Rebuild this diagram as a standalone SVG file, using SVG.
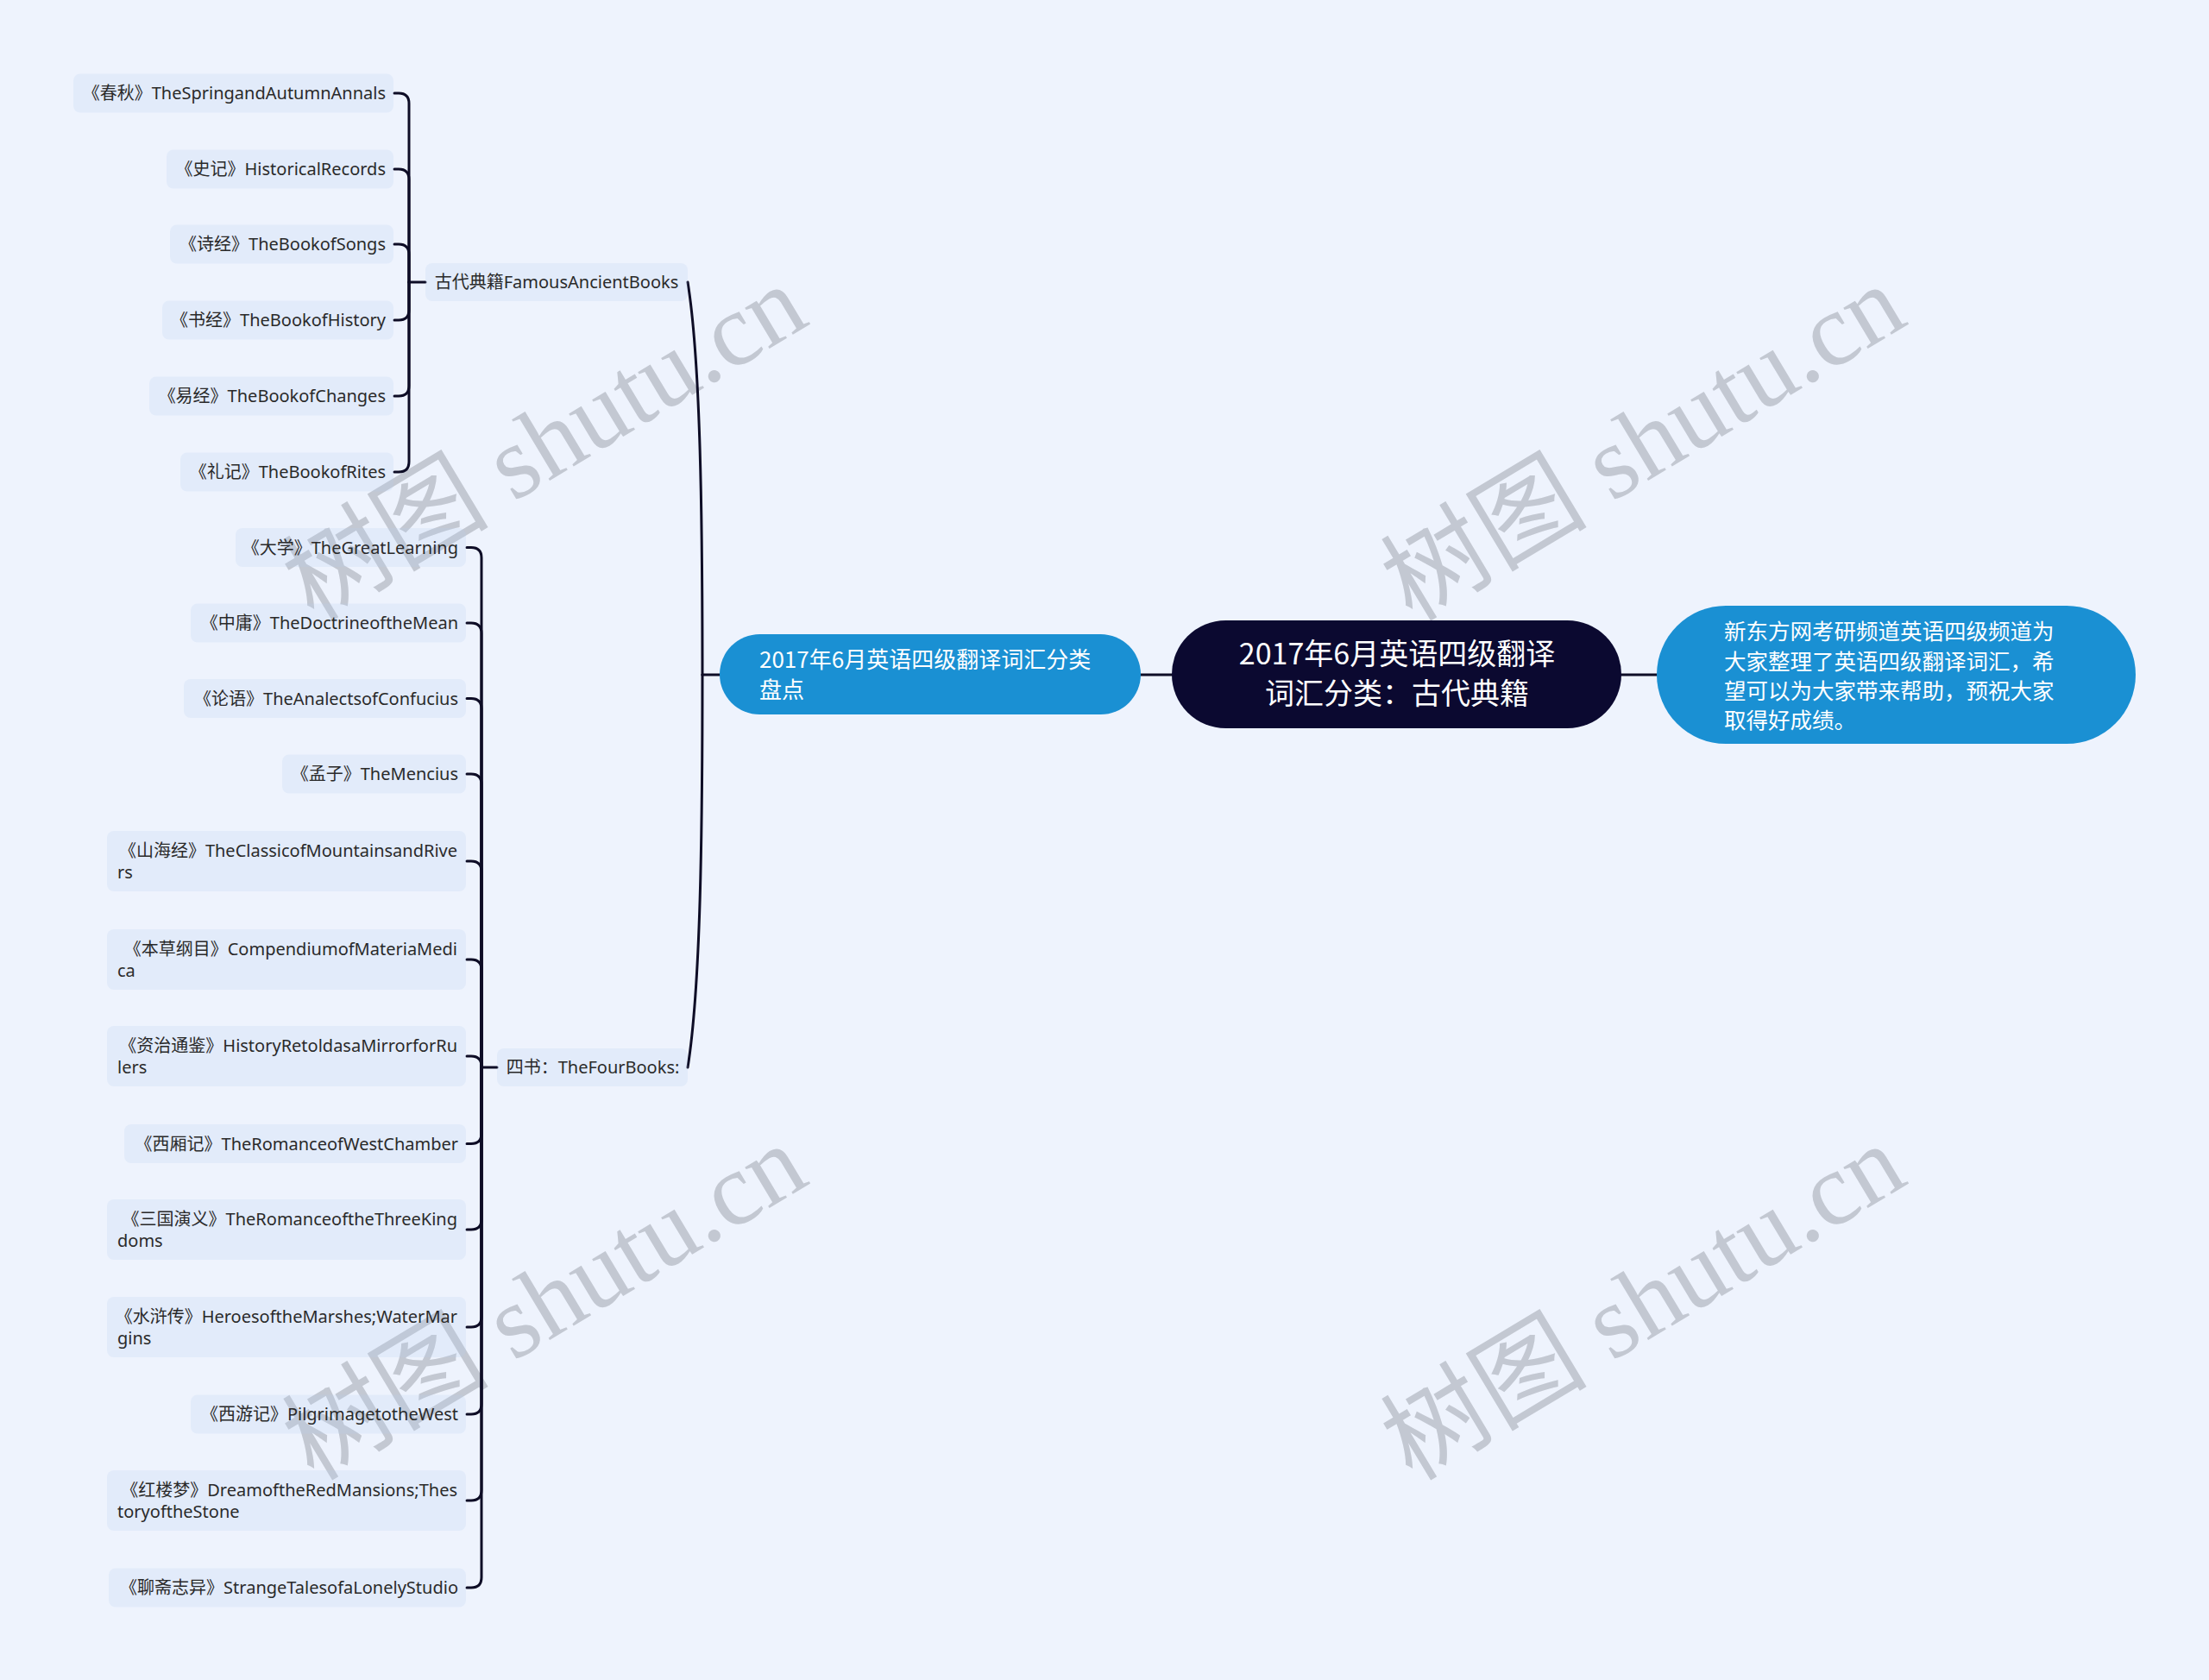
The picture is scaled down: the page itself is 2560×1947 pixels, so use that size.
<svg xmlns="http://www.w3.org/2000/svg" width="2560" height="1947" viewBox="0 0 2560 1947">
<style>
.bg{fill:#eef3fd}
.wm{fill:#c3c8d2;font-family:"Liberation Serif","Noto Sans CJK SC",serif;font-size:120px}
.leaf{fill:#b2cbef;fill-opacity:0.2}
.t{font-family:"Noto Sans","Noto Sans CJK SC",sans-serif;font-size:20px;fill:#2a2a2a}
.e{text-anchor:end}
.w{fill:#ffffff;font-family:"Noto Sans CJK SC","Noto Sans",sans-serif}
.c{fill:none;stroke:#0e0d26;stroke-width:3;stroke-linecap:round}
</style>
<rect class="bg" x="0" y="0" width="2560" height="1947"/>
<g id="watermarks">
<text class="wm" transform="translate(652,548) rotate(-31)" text-anchor="middle">树图 shutu.cn</text>
<text class="wm" transform="translate(1925,548) rotate(-31)" text-anchor="middle">树图 shutu.cn</text>
<text class="wm" transform="translate(652,1544) rotate(-31)" text-anchor="middle">树图 shutu.cn</text>
<text class="wm" transform="translate(1925,1544) rotate(-31)" text-anchor="middle">树图 shutu.cn</text>
</g>
<g id="connectors">
<path class="c" d="M1358 782H1322"/>
<path class="c" d="M1879 782H1920"/>
<path class="c" d="M834 782H814"/>
<path class="c" d="M814 782C814 600 812 420 797 327"/>
<path class="c" d="M814 782C814 964 812 1144 797 1237"/>
<path class="c" d="M493 327H474"/>
<path class="c" d="M474 327V120Q474 108 462 108H457"/>
<path class="c" d="M474 327V208Q474 196 462 196H457"/>
<path class="c" d="M474 327V295Q474 283 462 283H457"/>
<path class="c" d="M474 327V359Q474 371 462 371H457"/>
<path class="c" d="M474 327V447Q474 459 462 459H457"/>
<path class="c" d="M474 327V535Q474 547 462 547H457"/>
<path class="c" d="M576 1237H558"/>
<path class="c" d="M558 1237V646.5Q558 634.5 546 634.5H541"/>
<path class="c" d="M558 1237V734Q558 722 546 722H541"/>
<path class="c" d="M558 1237V821.5Q558 809.5 546 809.5H541"/>
<path class="c" d="M558 1237V909Q558 897 546 897H541"/>
<path class="c" d="M558 1237V1010Q558 998 546 998H541"/>
<path class="c" d="M558 1237V1124Q558 1112 546 1112H541"/>
<path class="c" d="M558 1237V1236Q558 1224 546 1224H541"/>
<path class="c" d="M558 1237V1313.5Q558 1325.5 546 1325.5H541"/>
<path class="c" d="M558 1237V1413Q558 1425 546 1425H541"/>
<path class="c" d="M558 1237V1526Q558 1538 546 1538H541"/>
<path class="c" d="M558 1237V1627Q558 1639 546 1639H541"/>
<path class="c" d="M558 1237V1727Q558 1739 546 1739H541"/>
<path class="c" d="M558 1237V1828Q558 1840 546 1840H541"/>
</g>
<g id="root">
<rect x="1358" y="719" width="521" height="125" rx="62.5" fill="#0b0930"/>
<text class="w" font-size="34" text-anchor="middle"><tspan x="1619" y="770">2017年6月英语四级翻译</tspan><tspan x="1619" y="816">词汇分类：古代典籍</tspan></text>
</g>
<g id="note">
<rect x="1920" y="702" width="555" height="160" rx="80" fill="#1a90d3"/>
<text class="w" font-size="25.5"><tspan x="1998" y="741">新东方网考研频道英语四级频道为</tspan><tspan x="1998" y="776">大家整理了英语四级翻译词汇，希</tspan><tspan x="1998" y="810">望可以为大家带来帮助，预祝大家</tspan><tspan x="1998" y="844">取得好成绩。</tspan></text>
</g>
<g id="branch">
<rect x="834" y="735" width="488" height="93" rx="46.5" fill="#1a90d3"/>
<text class="w" font-size="26"><tspan x="880" y="774">2017年6月英语四级翻译词汇分类</tspan><tspan x="880" y="809">盘点</tspan></text>
</g>
<g id="ancient">
<rect class="leaf" x="493" y="305" width="304" height="44" rx="8"/>
<text class="t" x="645" y="334" text-anchor="middle">古代典籍FamousAncientBooks</text>
</g>
<g id="fourbooks">
<rect class="leaf" x="576" y="1215" width="221" height="44" rx="8"/>
<text class="t" x="687" y="1244" text-anchor="middle">四书：TheFourBooks:</text>
</g>
<g id="a1"><rect class="leaf" x="85" y="85.5" width="371" height="45" rx="8"/><text class="t e" x="447" y="115">《春秋》TheSpringandAutumnAnnals</text></g>
<g id="a2"><rect class="leaf" x="193" y="173.5" width="263" height="45" rx="8"/><text class="t e" x="447" y="203">《史记》HistoricalRecords</text></g>
<g id="a3"><rect class="leaf" x="197" y="260.5" width="259" height="45" rx="8"/><text class="t e" x="447" y="290">《诗经》TheBookofSongs</text></g>
<g id="a4"><rect class="leaf" x="188" y="348.5" width="268" height="45" rx="8"/><text class="t e" x="447" y="378">《书经》TheBookofHistory</text></g>
<g id="a5"><rect class="leaf" x="173" y="436.5" width="283" height="45" rx="8"/><text class="t e" x="447" y="466">《易经》TheBookofChanges</text></g>
<g id="a6"><rect class="leaf" x="209" y="524.5" width="247" height="45" rx="8"/><text class="t e" x="447" y="554">《礼记》TheBookofRites</text></g>
<g id="b1"><rect class="leaf" x="273" y="612" width="267" height="45" rx="8"/><text class="t e" x="531" y="641.5">《大学》TheGreatLearning</text></g>
<g id="b2"><rect class="leaf" x="221" y="699.5" width="319" height="45" rx="8"/><text class="t e" x="531" y="729">《中庸》TheDoctrineoftheMean</text></g>
<g id="b3"><rect class="leaf" x="213" y="787" width="327" height="45" rx="8"/><text class="t e" x="531" y="816.5">《论语》TheAnalectsofConfucius</text></g>
<g id="b4"><rect class="leaf" x="327" y="874.5" width="213" height="45" rx="8"/><text class="t e" x="531" y="904">《孟子》TheMencius</text></g>
<g id="b5"><rect class="leaf" x="124" y="963" width="416" height="70" rx="8"/><text class="t"><tspan x="530" y="992.5" text-anchor="end">《山海经》TheClassicofMountainsandRive</tspan><tspan x="136" y="1017.5" text-anchor="start">rs</tspan></text></g>
<g id="b6"><rect class="leaf" x="124" y="1077" width="416" height="70" rx="8"/><text class="t"><tspan x="530" y="1106.5" text-anchor="end">《本草纲目》CompendiumofMateriaMedi</tspan><tspan x="136" y="1131.5" text-anchor="start">ca</tspan></text></g>
<g id="b7"><rect class="leaf" x="124" y="1189" width="416" height="70" rx="8"/><text class="t"><tspan x="530" y="1218.5" text-anchor="end">《资治通鉴》HistoryRetoldasaMirrorforRu</tspan><tspan x="136" y="1243.5" text-anchor="start">lers</tspan></text></g>
<g id="b8"><rect class="leaf" x="144" y="1303" width="396" height="45" rx="8"/><text class="t e" x="531" y="1332.5">《西厢记》TheRomanceofWestChamber</text></g>
<g id="b9"><rect class="leaf" x="124" y="1390" width="416" height="70" rx="8"/><text class="t"><tspan x="530" y="1419.5" text-anchor="end">《三国演义》TheRomanceoftheThreeKing</tspan><tspan x="136" y="1444.5" text-anchor="start">doms</tspan></text></g>
<g id="b10"><rect class="leaf" x="124" y="1503" width="416" height="70" rx="8"/><text class="t"><tspan x="530" y="1532.5" text-anchor="end">《水浒传》HeroesoftheMarshes;WaterMar</tspan><tspan x="136" y="1557.5" text-anchor="start">gins</tspan></text></g>
<g id="b11"><rect class="leaf" x="221" y="1616.5" width="319" height="45" rx="8"/><text class="t e" x="531" y="1646">《西游记》PilgrimagetotheWest</text></g>
<g id="b12"><rect class="leaf" x="124" y="1704" width="416" height="70" rx="8"/><text class="t"><tspan x="530" y="1733.5" text-anchor="end">《红楼梦》DreamoftheRedMansions;Thes</tspan><tspan x="136" y="1758.5" text-anchor="start">toryoftheStone</tspan></text></g>
<g id="b13"><rect class="leaf" x="126" y="1817.5" width="414" height="45" rx="8"/><text class="t e" x="531" y="1847">《聊斋志异》StrangeTalesofaLonelyStudio</text></g>
</svg>
